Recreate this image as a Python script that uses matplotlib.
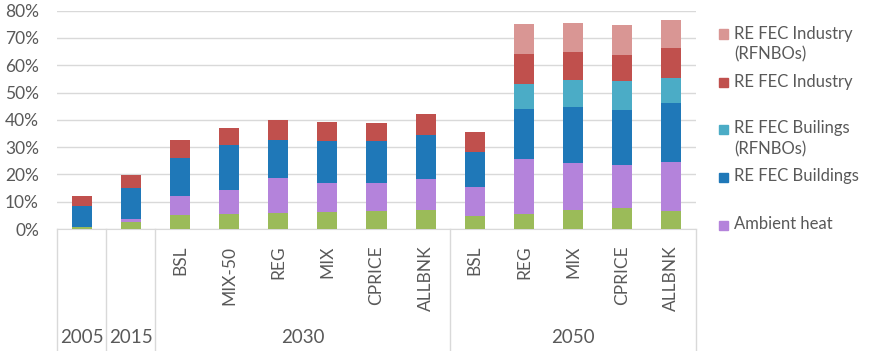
import matplotlib.pyplot as plt
from matplotlib.patches import Rectangle
from matplotlib.ticker import PercentFormatter
import numpy as np

# categorias (eixo x)
anos = ['2005', '2015', '2030', '2050']
cenarios = ['', '', 'BSL', 'MIX-50', 'REG', 'MIX', 'CPRICE', 'ALLBNK',
            'BSL', 'REG', 'MIX', 'CPRICE', 'ALLBNK']
n_por_ano = [1, 1, 6, 5]

# valores em % (parcelas empilhadas, de baixo para cima)
verde = [0.8, 2.7, 5.1, 5.5, 5.7, 6.2, 6.7, 7.0, 4.8, 5.6, 7.1, 7.7, 6.6]
ambient = [0.1, 1.0, 7.0, 8.8, 13.0, 10.8, 10.3, 11.3, 10.6, 20.0, 17.1, 15.7, 17.9]
buildings = [7.6, 11.4, 13.9, 16.6, 13.9, 15.2, 15.2, 16.1, 12.8, 18.4, 20.5, 20.2, 21.7]
buildings_rfnbo = [0, 0, 0, 0, 0, 0, 0, 0, 0, 9.2, 9.9, 10.6, 9.1]
industry = [3.6, 4.7, 6.6, 6.1, 7.3, 7.0, 6.6, 7.7, 7.3, 10.9, 10.2, 9.5, 11.0]
industry_rfnbo = [0, 0, 0, 0, 0, 0, 0, 0, 0, 11.0, 10.7, 11.0, 10.3]

series = [verde, ambient, buildings, buildings_rfnbo, industry, industry_rfnbo]
nomes = [None, 'Ambient heat', 'RE FEC Buildings', 'RE FEC Builings\n(RFNBOs)',
         'RE FEC Industry', 'RE FEC Industry\n(RFNBOs)']
cores = ['#9BBB59', '#B483DB', '#1F78B8', '#4BACC6', '#C0504D', '#D99694']

cinza = '#595959'
plt.rcParams['font.family'] = ['Lato', 'DejaVu Sans']
fig = plt.figure(figsize=(8.77, 3.51), dpi=100)
ax = fig.add_axes([57 / 877, 1 - 229 / 351, 639 / 877, 218.3 / 351])

x = np.arange(len(cenarios))
base = np.zeros(len(cenarios))
for vals, cor in zip(series, cores):
    v = np.array(vals) / 100
    ax.bar(x, v, bottom=base, width=0.41, color=cor, zorder=3)
    base += v

ax.set_xlim(-0.5, len(cenarios) - 0.5)
ax.set_ylim(0, 0.8)
ax.set_yticks(np.arange(0, 0.81, 0.1))
ax.yaxis.set_major_formatter(PercentFormatter(1, decimals=0))
ax.grid(axis='y', color='#D9D9D9', lw=1, zorder=0)
for s in ['top', 'right', 'left']:
    ax.spines[s].set_visible(False)
ax.spines['bottom'].set_color('#D9D9D9')
ax.tick_params(axis='y', length=0, labelsize=12.5, labelcolor=cinza, pad=13)

# rótulos dos cenários
ax.set_xticks(x)
ax.set_xticklabels(cenarios, rotation=90, fontsize=12.5, color=cinza, va='top')
ax.tick_params(axis='x', length=0, pad=12)

# linhas separadoras dos grupos e rótulos dos anos
trans = ax.get_xaxis_transform()
limites = np.concatenate([[0], np.cumsum(n_por_ano)]) - 0.5
for b in limites:
    ax.plot([b, b], [0, -0.56], color='#D9D9D9', lw=1, transform=trans, clip_on=False)
for i, ano in enumerate(anos):
    centro = (limites[i] + limites[i + 1]) / 2
    ax.text(centro, -0.497, ano, transform=trans, ha='center', va='center',
            fontsize=13.5, color=cinza)

# legenda desenhada à mão (marcador alinhado na primeira linha)
leg_y = [34, 82, 129, 177, 225]
ordem = [5, 4, 3, 2, 1]
for yy, k in zip(leg_y, ordem):
    fig.patches.append(Rectangle((719 / 877, 1 - (yy + 4.5) / 351), 9 / 877, 9 / 351,
                                 transform=fig.transFigure, color=cores[k]))
    fig.text(734 / 877, 1 - (yy - 8.5) / 351, nomes[k], ha='left', va='top',
             fontsize=12, color=cinza, linespacing=1.4)

fig.savefig('out.png', dpi=100)
